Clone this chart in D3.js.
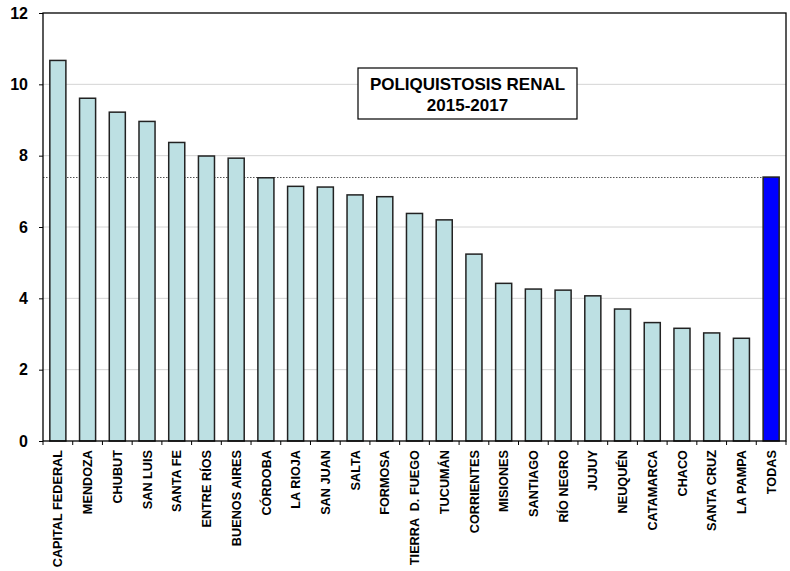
<!DOCTYPE html>
<html>
<head>
<meta charset="utf-8">
<script src="https://cdn.jsdelivr.net/npm/d3@7"></script>
<style>
  body { margin: 0; background: #fff; }
  svg { display: block; }
  svg text { font-family: "Liberation Sans", Arial, sans-serif; font-weight: 700; fill: #000; }
</style>
</head>
<body>
<svg id="chart" width="790" height="571"></svg>
<script>
// Data
const provinces = ["CAPITAL FEDERAL", "MENDOZA", "CHUBUT", "SAN LUIS", "SANTA FE", "ENTRE RÍOS",
  "BUENOS AIRES", "CÓRDOBA", "LA RIOJA", "SAN JUAN", "SALTA", "FORMOSA", "TIERRA  D. FUEGO",
  "TUCUMÁN", "CORRIENTES", "MISIONES", "SANTIAGO", "RÍO NEGRO", "JUJUY", "NEUQUÉN",
  "CATAMARCA", "CHACO", "SANTA CRUZ", "LA PAMPA", "TODAS"];
const rates = [10.67, 9.61, 9.22, 8.96, 8.37, 7.99, 7.93, 7.38, 7.14, 7.12, 6.90, 6.85, 6.38,
  6.20, 5.24, 4.42, 4.26, 4.23, 4.07, 3.70, 3.32, 3.16, 3.03, 2.88, 7.40];
const yTicks = [0, 2, 4, 6, 8, 10, 12];
const titleLines = ["POLIQUISTOSIS RENAL", "2015-2017"];
const totalLabel = "TODAS";

const svg = d3.select("#chart");
const margin = {top: 13, right: 4, bottom: 130, left: 43};
const width = 790, height = 571;
const plotW = width - margin.left - margin.right;
const plotH = height - margin.top - margin.bottom;

const x = d3.scaleBand().domain(provinces).range([0, plotW]).paddingInner(0.46).paddingOuter(0.23);
const y = d3.scaleLinear().domain([0, 12]).range([plotH, 0]);

const g = svg.append("g").attr("transform", `translate(${margin.left},${margin.top})`);

// gridlines
g.selectAll(".grid")
  .data(yTicks.filter(d => d > 0 && d < 12))
  .enter().append("line")
  .attr("x1", 0).attr("x2", plotW)
  .attr("y1", d => y(d)).attr("y2", d => y(d))
  .attr("stroke", "#d4d4d4").attr("stroke-width", 1);

// reference line at national value
const total = rates[provinces.indexOf(totalLabel)];
g.append("line")
  .attr("x1", 0).attr("x2", x(totalLabel))
  .attr("y1", Math.round(y(total)) + 0.5).attr("y2", Math.round(y(total)) + 0.5)
  .attr("stroke", "#555").attr("stroke-width", 1)
  .attr("stroke-dasharray", "1.5,1.5");

// bars
g.selectAll(".bar")
  .data(provinces)
  .enter().append("rect")
  .attr("x", d => x(d))
  .attr("width", x.bandwidth())
  .attr("y", (d, i) => y(rates[i]))
  .attr("height", (d, i) => plotH - y(rates[i]))
  .attr("fill", d => d === totalLabel ? "#0000ff" : "#bde0e3")
  .attr("stroke", "#222")
  .attr("stroke-width", 1.5);

// plot frame
g.append("rect")
  .attr("x", 0).attr("y", 0).attr("width", plotW).attr("height", plotH)
  .attr("fill", "none").attr("stroke", "#000").attr("stroke-width", 1.3);

// y axis
const yAxis = g.append("g")
  .call(d3.axisLeft(y).tickValues(yTicks).tickSize(4).tickPadding(11).tickFormat(d3.format("d")));
yAxis.select(".domain").remove();
yAxis.attr("font-family", null).attr("font-size", null);
yAxis.selectAll("text").style("font-size", "16px").style("font-weight", "700");

// x axis: ticks between categories
g.selectAll(".xtick")
  .data(d3.range(provinces.length + 1))
  .enter().append("line")
  .attr("x1", i => i * plotW / provinces.length).attr("x2", i => i * plotW / provinces.length)
  .attr("y1", plotH).attr("y2", plotH + 4)
  .attr("stroke", "#000");

g.selectAll(".xlabel")
  .data(provinces)
  .enter().append("text")
  .attr("transform", d => `translate(${x(d) + x.bandwidth() / 2 + 4.6},${plotH + 9}) rotate(-90)`)
  .attr("text-anchor", "end")
  .style("font-size", "12.7px")
  .style("font-weight", "700")
  .style("white-space", "pre")
  .text(d => d);

// title box
const box = g.append("g").attr("transform", `translate(${358 - margin.left},${68 - margin.top})`);
box.append("rect")
  .attr("width", 219).attr("height", 51)
  .attr("fill", "#fff").attr("stroke", "#000").attr("stroke-width", 1.2);
box.selectAll(".title")
  .data(titleLines)
  .enter().append("text")
  .attr("x", 109.5)
  .attr("y", (d, i) => 22 + i * 20.5)
  .attr("text-anchor", "middle")
  .style("font-size", "17px")
  .style("font-weight", "700")
  .text(d => d);
</script>
</body>
</html>
